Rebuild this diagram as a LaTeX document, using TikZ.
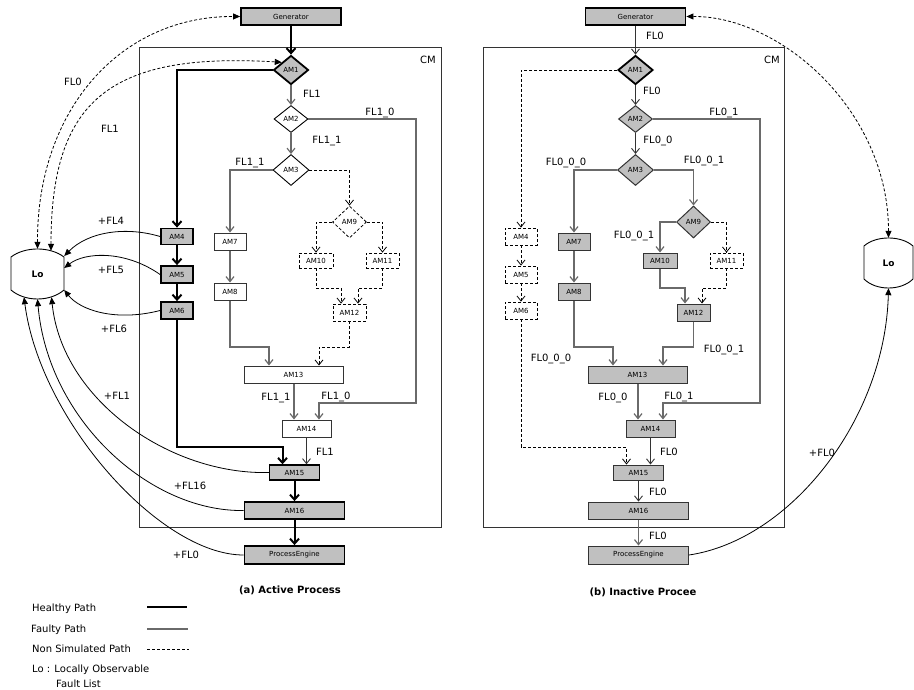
\documentclass[tikz,border=0pt]{standalone}
\usepackage{fontspec}
\setmainfont{DejaVu Sans}
\usetikzlibrary{arrows.meta,shapes.geometric,calc}
\definecolor{boxgray}{HTML}{C0C0C0}
\definecolor{pathgray}{HTML}{6A6A6A}
\definecolor{edgegray}{HTML}{333333}
\begin{document}
\begin{tikzpicture}[x=1pt,y=-1pt,
  amfont/.style={font=\fontsize{7}{8}\selectfont},
  lbl/.style={font=\fontsize{10}{12}\selectfont, inner sep=0},
  ttl/.style={font=\bfseries\fontsize{10}{12}\selectfont, inner sep=0},
  box/.style={rectangle, amfont, inner sep=0, draw=edgegray, line width=1pt, fill=white},
  gbox/.style={box, fill=boxgray},
  hbox/.style={box, fill=boxgray, draw=black, line width=1.8pt},
  mbox/.style={box, fill=boxgray, draw=black, line width=1.4pt},
  dbox/.style={box, draw=black, line width=0.8pt, dash pattern=on 3pt off 2pt},
  dia/.style={diamond, amfont, inner sep=0, draw=black, line width=0.9pt, fill=white},
  gdia/.style={dia, fill=boxgray, draw=edgegray, line width=1pt},
  hdia/.style={dia, fill=boxgray, line width=1.8pt},
  ddia/.style={dia, line width=0.8pt, dash pattern=on 3pt off 2pt},
  vtip/.tip={Straight Barb[length=5pt,width=8pt]},
  ftip/.tip={Triangle[length=7pt,width=6pt]},
  healthy/.style={line width=2pt, draw=black, -{Straight Barb[length=5pt,width=9pt]}},
  faulty/.style={line width=1.2pt, draw=pathgray, -vtip},
  thinp/.style={line width=0.9pt, draw=edgegray, -vtip},
  nsim/.style={line width=0.8pt, draw=black, dash pattern=on 3pt off 2pt, -vtip},
  loarr/.style={line width=0.8pt, draw=black, -ftip},
  lodash/.style={line width=0.8pt, draw=black, dash pattern=on 3pt off 2pt, ftip-ftip},
  lofont/.style={font=\bfseries\fontsize{9}{10}\selectfont, inner sep=0}
]
\useasboundingbox (0,0) rectangle (914,689);

% ---------------- CM frames ----------------
\draw[draw=edgegray, line width=1pt] (139,47) rectangle (441,527);
\draw[draw=edgegray, line width=1pt] (483,47) rectangle (784,527);
\node[lbl] (LCM) at (428,60) {CM};
\node[lbl] (RCM) at (772,60) {CM};

% ---------------- Left panel nodes ----------------
\node[hbox, minimum width=100pt, minimum height=17pt] (Lgen) at (291,16.5) {Generator};
\node[hdia, minimum width=35pt, minimum height=29pt] (LAM1) at (291,70) {AM1};
\node[dia, minimum width=34pt, minimum height=27pt] (LAM2) at (291,119) {AM2};
\node[dia, minimum width=36pt, minimum height=31pt] (LAM3) at (291,170) {AM3};
\node[ddia, minimum width=34pt, minimum height=32pt] (LAM9) at (349.5,222) {AM9};
\node[dbox, minimum width=34pt, minimum height=15pt] (LAM10) at (316,260.5) {AM10};
\node[dbox, minimum width=33pt, minimum height=15pt] (LAM11) at (382.5,260.5) {AM11};
\node[dbox, minimum width=33pt, minimum height=17pt] (LAM12) at (349.5,312.5) {AM12};
\node[box, minimum width=32pt, minimum height=17pt] (LAM7) at (230,241.5) {AM7};
\node[box, minimum width=32pt, minimum height=17pt] (LAM8) at (230,291.5) {AM8};
\node[box, minimum width=99pt, minimum height=17pt] (LAM13) at (293.5,374.5) {AM13};
\node[box, minimum width=49pt, minimum height=17pt] (LAM14) at (306.5,428.5) {AM14};
\node[mbox, minimum width=50pt, minimum height=15pt] (LAM15) at (294.5,472.5) {AM15};
\node[hbox, minimum width=100pt, minimum height=17pt] (LAM16) at (294.5,510.5) {AM16};
\node[hbox, minimum width=100pt, minimum height=18pt] (LPE) at (294.5,555) {ProcessEngine};
\node[hbox, minimum width=32pt, minimum height=16pt] (LAM4) at (177,236.5) {AM4};
\node[hbox, minimum width=32pt, minimum height=17pt] (LAM5) at (177,274.5) {AM5};
\node[hbox, minimum width=32pt, minimum height=17pt] (LAM6) at (177,310.5) {AM6};

% Left Lo
\draw[line width=0.9pt, fill=white] (11,257) .. controls (25,246.3) and (50,246.3) .. (64,257)
  -- (64,290) .. controls (50,302) and (25,302) .. (11,290) -- cycle;
\node[lofont, minimum width=53pt, minimum height=50pt] (LLo) at (37.5,274) {Lo};

% ---------------- Left panel connectors ----------------
\draw[healthy] (Lgen) -- (LAM1);
\draw[healthy] (LAM1.west) -| (LAM4.north);
\draw[healthy] (LAM4) -- (LAM5);
\draw[healthy] (LAM5) -- (LAM6);
\draw[healthy] (LAM6.south) |- (282.5,447) -- ([xshift=-12pt]LAM15.north);
\draw[healthy] (LAM15) -- (LAM16);
\draw[healthy] (LAM16) -- (LPE);

\draw[faulty] (LAM1) -- (LAM2);
\draw[faulty] (LAM2) -- (LAM3);
\draw[faulty] (LAM2.east) -| (416,403) -| ([xshift=12.5pt]LAM14.north);
\draw[faulty] (LAM3.west) -| (LAM7.north);
\draw[faulty] (LAM7) -- (LAM8);
\draw[faulty] (LAM8.south) |- (269,347) -- ([xshift=-24.5pt]LAM13.north);
\draw[faulty] ([xshift=0.5pt]LAM13.south) -- ([xshift=-12.5pt]LAM14.north);
\draw[thinp] (LAM14.south) -- ([xshift=12pt]LAM15.north);

\draw[nsim] (LAM3.east) -| (LAM9.north);
\draw[nsim] (LAM9.west) -| (LAM10.north);
\draw[nsim] (LAM9.east) -| (LAM11.north);
\draw[nsim] (LAM10.south) |- (341,288) -- ([xshift=-8.5pt]LAM12.north);
\draw[nsim] (LAM11.south) |- (358,288) -- ([xshift=8.5pt]LAM12.north);
\draw[nsim] (LAM12.south) |- (319,347) -- ([xshift=25.5pt]LAM13.north);

% Lo connections (left)
\draw[lodash] (LLo.north) .. controls (37,110) and (120,16) .. (Lgen.west);
\draw[lodash] ([xshift=13.5pt,yshift=-2pt]LLo.north) .. controls (51,100) and (110,52) .. (LAM1.north west);
\draw[loarr] (LAM4.west) .. controls (125,226) and (88,232) .. ([yshift=18pt]LLo.east);
\draw[loarr] (LAM5.west) .. controls (125,250) and (85,252) .. ([yshift=6pt]LLo.east);
\draw[loarr] (LAM6.west) .. controls (115,322) and (80,310) .. ([yshift=-16pt]LLo.east);
\draw[loarr] (LAM15.west) .. controls (170,475) and (62,400) .. ([xshift=14pt,yshift=2pt]LLo.south);
\draw[loarr] (LAM16.west) .. controls (150,512) and (48,420) .. (LLo.south);
\draw[loarr] (LPE.west) .. controls (160,555) and (40,420) .. ([xshift=-13.5pt,yshift=2pt]LLo.south);

% Left labels
\node[lbl] (l1) at (73,82) {FL0};
\node[lbl] (l2) at (110,129) {FL1};
\node[lbl] (l3) at (312,94) {FL1};
\node[lbl] (l4) at (380,113) {FL1\_0};
\node[lbl] (l5) at (327,141) {FL1\_1};
\node[lbl] (l6) at (250,163) {FL1\_1};
\node[lbl] (l7) at (276,398) {FL1\_1};
\node[lbl] (l8) at (336,397) {FL1\_0};
\node[lbl] (l9) at (325,452) {FL1};
\node[lbl] (l10) at (111,221) {+FL4};
\node[lbl] (l11) at (111,270) {+FL5};
\node[lbl] (l12) at (114,329) {+FL6};
\node[lbl] (l13) at (117,396) {+FL1};
\node[lbl] (l14) at (190,486) {+FL16};
\node[lbl] (l15) at (186,555) {+FL0};
\node[ttl] (ta) at (290,590) {(a) Active Process};

% ---------------- Right panel nodes ----------------
\node[hbox, minimum width=100pt, minimum height=17pt] (Rgen) at (635.5,16.5) {Generator};
\node[hdia, minimum width=35pt, minimum height=29pt] (RAM1) at (635.5,70) {AM1};
\node[gdia, minimum width=34pt, minimum height=27pt] (RAM2) at (635.5,119) {AM2};
\node[gdia, minimum width=36pt, minimum height=31pt] (RAM3) at (635.5,170) {AM3};
\node[gdia, minimum width=34pt, minimum height=32pt] (RAM9) at (693.5,222) {AM9};
\node[gbox, minimum width=34pt, minimum height=15pt] (RAM10) at (660,260.5) {AM10};
\node[dbox, minimum width=33pt, minimum height=15pt] (RAM11) at (726.5,260.5) {AM11};
\node[gbox, minimum width=33pt, minimum height=17pt] (RAM12) at (693.5,312.5) {AM12};
\node[gbox, minimum width=32pt, minimum height=17pt] (RAM7) at (574,241.5) {AM7};
\node[gbox, minimum width=32pt, minimum height=17pt] (RAM8) at (574,291.5) {AM8};
\node[gbox, minimum width=99pt, minimum height=17pt] (RAM13) at (637.5,374.5) {AM13};
\node[gbox, minimum width=49pt, minimum height=17pt] (RAM14) at (650.5,428.5) {AM14};
\node[gbox, minimum width=50pt, minimum height=15pt] (RAM15) at (638.5,472.5) {AM15};
\node[gbox, minimum width=100pt, minimum height=17pt] (RAM16) at (638.5,510.5) {AM16};
\node[gbox, minimum width=100pt, minimum height=18pt] (RPE) at (638.5,555) {ProcessEngine};
\node[dbox, minimum width=32pt, minimum height=17pt] (RAM4) at (521,236.5) {AM4};
\node[dbox, minimum width=32pt, minimum height=17pt] (RAM5) at (521,274.5) {AM5};
\node[dbox, minimum width=32pt, minimum height=17pt] (RAM6) at (521,310.5) {AM6};

% Right Lo
\draw[line width=0.9pt, fill=white] (864,246) .. controls (876,235.3) and (901,235.3) .. (913,246)
  -- (913,279) .. controls (901,291) and (876,291) .. (864,279) -- cycle;
\node[lofont, minimum width=49pt, minimum height=50pt] (RLo) at (888.5,263) {Lo};

% ---------------- Right panel connectors ----------------
\draw[thinp] (Rgen) -- (RAM1);
\draw[thinp] (RAM1) -- (RAM2);
\draw[thinp] (RAM2) -- (RAM3);
\draw[nsim] (RAM1.west) -| (RAM4.north);
\draw[nsim] (RAM4) -- (RAM5);
\draw[nsim] (RAM5) -- (RAM6);
\draw[nsim] (RAM6.south) |- (626.5,447) -- ([xshift=-12pt]RAM15.north);
\draw[faulty] (RAM2.east) -| (760,403) -| ([xshift=12.5pt]RAM14.north);
\draw[faulty] (RAM3.west) -| (RAM7.north);
\draw[faulty] (RAM3.east) -| (RAM9.north);
\draw[faulty] (RAM9.west) -| (RAM10.north);
\draw[nsim] (RAM9.east) -| (RAM11.north);
\draw[faulty] (RAM7) -- (RAM8);
\draw[faulty] (RAM8.south) |- (613,347) -- ([xshift=-24.5pt]RAM13.north);
\draw[faulty] (RAM10.south) |- (685,288) -- ([xshift=-8.5pt]RAM12.north);
\draw[nsim] (RAM11.south) |- (702,288) -- ([xshift=8.5pt]RAM12.north);
\draw[faulty] (RAM12.south) |- (663,347) -- ([xshift=25.5pt]RAM13.north);
\draw[faulty] ([xshift=0.5pt]RAM13.south) -- ([xshift=-12.5pt]RAM14.north);
\draw[thinp] (RAM14.south) -- ([xshift=12pt]RAM15.north);
\draw[thinp] (RAM15) -- (RAM16);
\draw[faulty] (RAM16) -- (RPE);

% Lo connections (right)
\draw[lodash] (RLo.north) .. controls (888.5,110) and (780,16) .. (Rgen.east);
\draw[loarr] (RPE.east) .. controls (790,540) and (885,420) .. (RLo.south);

% Right labels
\node[lbl] (r1) at (655,36) {FL0};
\node[lbl] (r2) at (652,91) {FL0};
\node[lbl] (r3) at (724,113) {FL0\_1};
\node[lbl] (r4) at (658,141) {FL0\_0};
\node[lbl] (r5) at (566,163) {FL0\_0\_0};
\node[lbl] (r6) at (704,161) {FL0\_0\_1};
\node[lbl] (r7) at (634,236) {FL0\_0\_1};
\node[lbl] (r8) at (724,350) {FL0\_0\_1};
\node[lbl] (r9) at (551,359) {FL0\_0\_0};
\node[lbl] (r10) at (613,398) {FL0\_0};
\node[lbl] (r11) at (679,397) {FL0\_1};
\node[lbl] (r12) at (669,452) {FL0};
\node[lbl] (r13) at (658,492) {FL0};
\node[lbl] (r14) at (658,536) {FL0};
\node[lbl] (r15) at (822,453) {+FL0};
\node[ttl] (tb) at (643,592) {(b) Inactive Procee};

% ---------------- Legend ----------------
\node[lbl, anchor=west] (lg1) at (32,609) {Healthy Path};
\node[lbl, anchor=west] (lg2) at (31,630) {Faulty Path};
\node[lbl, anchor=west] (lg3) at (32,649) {Non Simulated Path};
\node[lbl, anchor=west] (lg4) at (32,670) {Lo : Locally Observable};
\node[lbl, anchor=west] (lg5) at (56,684) {Fault List};
\coordinate (h1) at (147,607); \coordinate (h2) at (187,607);
\coordinate (f1) at (147,629); \coordinate (f2) at (188,629);
\coordinate (n1) at (147,649); \coordinate (n2) at (189,649);
\draw[line width=2pt] (h1) -- (h2);
\draw[line width=1.4pt, draw=pathgray] (f1) -- (f2);
\draw[line width=0.8pt, dash pattern=on 3pt off 2pt] (n1) -- (n2);
\end{tikzpicture}
\end{document}
